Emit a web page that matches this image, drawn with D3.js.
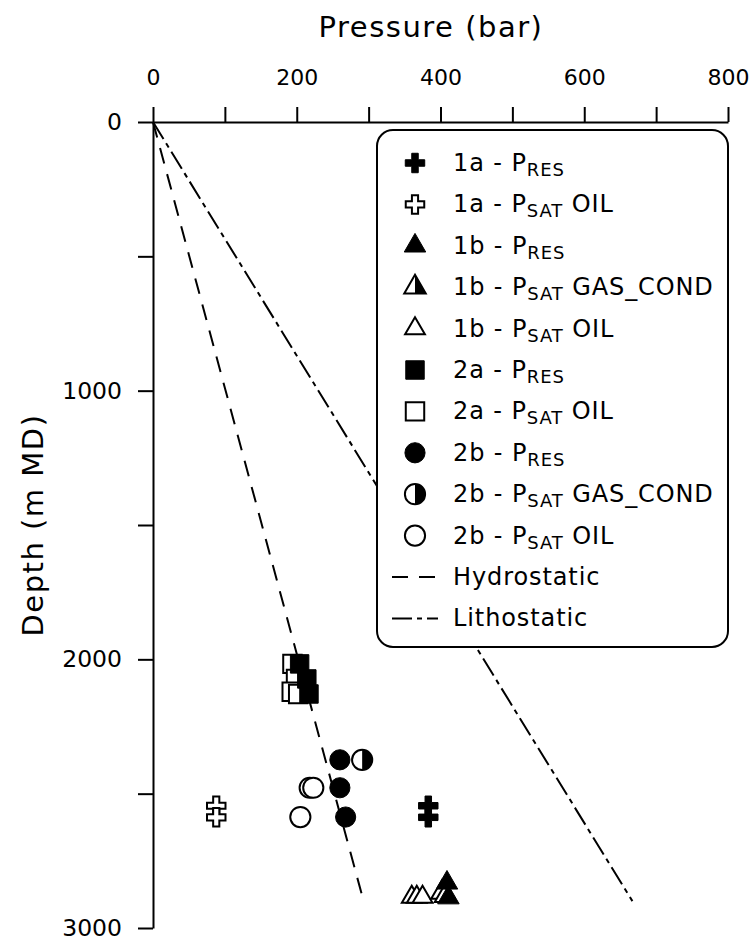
<!DOCTYPE html>
<meta charset="utf-8">
<style>
body { margin: 0; background: #fff; }
svg { font-family: "DejaVu Sans", Verdana, sans-serif; }
.axis path, .axis line { stroke: #000; stroke-width: 2px; }
.axis text { font-family: "DejaVu Sans", Verdana, sans-serif; fill: #000; }
.x.axis text { font-size: 22px; }
.y.axis text { font-size: 23.5px; }
.legend-box { fill: #fff; stroke: #000; stroke-width: 2px; }
.legend text { font-size: 24px; letter-spacing: 0.9px; fill: #000; }
.title { font-size: 29px; letter-spacing: 1.5px; }
</style>
<svg width="752" height="943"></svg>
<script src="https://cdn.jsdelivr.net/npm/d3@7"></script>
<script>

// pressure (bar) vs depth (m MD)
var res1a    = [[383, 2545], [383, 2588]],
    satOil1a = [[88, 2545], [88, 2588]],
    res1b    = [[409, 2832], [411, 2887]],
    satGas1b = [[402, 2868], [407, 2880]],
    satOil1b = [[360, 2885], [367, 2885], [375, 2885]],
    res2a    = [[204, 2017], [214, 2073], [217, 2129]],
    satOil2a = [[194, 2017], [199, 2073], [193, 2121], [202, 2129]],
    res2b    = [[260, 2374], [260, 2478], [268, 2587]],
    satGas2b = [[291, 2374]],
    satOil2b = [[218, 2478], [223, 2478], [205, 2587]];

var hydrostatic = [[0, 0], [293, 2900]],
    lithostatic = [[0, 0], [667, 2900]];

var xTicks = [0, 100, 200, 300, 400, 500, 600, 700, 800],
    yTicks = [0, 500, 1000, 1500, 2000, 2500, 3000];

var svg = d3.select("svg");

var x = d3.scaleLinear().domain([0, 800]).range([153, 728]),
    y = d3.scaleLinear().domain([0, 3000]).range([122, 928]);

var defs = svg.append("defs");
defs.append("clipPath")
    .attr("id", "right-half")
    .attr("clipPathUnits", "objectBoundingBox")
  .append("rect")
    .attr("x", 0.5).attr("y", -0.1).attr("width", 0.6).attr("height", 1.2);

// pressure gradient lines
var line = d3.line()
    .x(function(d) { return x(d[0]); })
    .y(function(d) { return y(d[1]); });

svg.append("path")
    .datum(hydrostatic)
    .attr("d", line)
    .attr("fill", "none")
    .attr("stroke", "#000")
    .attr("stroke-width", 2)
    .attr("stroke-dasharray", "16,11");

svg.append("path")
    .datum(lithostatic)
    .attr("d", line)
    .attr("fill", "none")
    .attr("stroke", "#000")
    .attr("stroke-width", 2)
    .attr("stroke-dasharray", "20,5,5,5");

// axes
svg.append("g")
    .attr("class", "x axis")
    .attr("transform", "translate(0,122)")
    .call(d3.axisTop(x)
        .tickValues(xTicks)
        .tickFormat(function(d) { return d % 200 === 0 ? d : ""; })
        .tickSize(15)
        .tickSizeOuter(0)
        .tickPadding(22));

svg.append("g")
    .attr("class", "y axis")
    .attr("transform", "translate(153,0)")
    .call(d3.axisLeft(y)
        .tickValues(yTicks)
        .tickFormat(function(d) { return d % 1000 === 0 ? d : ""; })
        .tickSize(15)
        .tickSizeOuter(0)
        .tickPadding(16));

svg.append("text")
    .attr("class", "title")
    .attr("x", 431)
    .attr("y", 37)
    .attr("text-anchor", "middle")
    .text("Pressure (bar)");

svg.append("text")
    .attr("class", "title")
    .attr("transform", "translate(43,525) rotate(-90)")
    .attr("text-anchor", "middle")
    .text("Depth (m MD)");

// marker styles
var styles = {
  cross:    {type: d3.symbolCross,    size: 210, fill: "#000", half: false},
  crossO:   {type: d3.symbolCross,    size: 190, fill: "#fff", half: false},
  tri:      {type: d3.symbolTriangle, size: 200, fill: "#000", half: false},
  triH:     {type: d3.symbolTriangle, size: 200, fill: "#fff", half: true},
  triO:     {type: d3.symbolTriangle, size: 170, fill: "#fff", half: false},
  square:   {type: d3.symbolSquare,   size: 340, fill: "#000", half: false},
  squareO:  {type: d3.symbolSquare,   size: 340, fill: "#fff", half: false},
  circle:   {type: d3.symbolCircle,   size: 320, fill: "#000", half: false},
  circleH:  {type: d3.symbolCircle,   size: 320, fill: "#fff", half: true},
  circleO:  {type: d3.symbolCircle,   size: 320, fill: "#fff", half: false}
};

function drawMarker(g, st) {
  var sym = d3.symbol().type(st.type).size(st.size)();
  g.append("path")
      .attr("d", sym)
      .attr("fill", st.fill)
      .attr("stroke", "#000")
      .attr("stroke-width", st.fill === "#fff" ? 2 : 1);
  if (st.half) {
    g.append("path")
        .attr("d", sym)
        .attr("fill", "#000")
        .attr("clip-path", "url(#right-half)");
  }
}

var series = [
  {data: satOil1b, style: "triO"},
  {data: satGas1b, style: "triH"},
  {data: res1b,    style: "tri"},
  {data: satOil1a, style: "crossO"},
  {data: res1a,    style: "cross"},
  {data: satOil2a, style: "squareO"},
  {data: res2a,    style: "square"},
  {data: satOil2b, style: "circleO"},
  {data: satGas2b, style: "circleH"},
  {data: res2b,    style: "circle"}
];

series.forEach(function(s) {
  svg.append("g").selectAll("g")
      .data(s.data)
    .enter().append("g")
      .attr("transform", function(d) { return "translate(" + x(d[0]) + "," + y(d[1]) + ")"; })
      .each(function() { drawMarker(d3.select(this), styles[s.style]); });
});

// legend
var legendItems = [
  {id: "1a", sub: "RES", rest: "",          style: "cross"},
  {id: "1a", sub: "SAT", rest: " OIL",      style: "crossO"},
  {id: "1b", sub: "RES", rest: "",          style: "tri"},
  {id: "1b", sub: "SAT", rest: " GAS_COND", style: "triH"},
  {id: "1b", sub: "SAT", rest: " OIL",      style: "triO"},
  {id: "2a", sub: "RES", rest: "",          style: "square"},
  {id: "2a", sub: "SAT", rest: " OIL",      style: "squareO"},
  {id: "2b", sub: "RES", rest: "",          style: "circle"},
  {id: "2b", sub: "SAT", rest: " GAS_COND", style: "circleH"},
  {id: "2b", sub: "SAT", rest: " OIL",      style: "circleO"}
];
var legendLines = [
  {label: "Hydrostatic", dash: "16,11"},
  {label: "Lithostatic", dash: "20,5,5,5"}
];

var legend = svg.append("g").attr("class", "legend");

legend.append("rect")
    .attr("class", "legend-box")
    .attr("x", 377).attr("y", 130)
    .attr("width", 351).attr("height", 517)
    .attr("rx", 16).attr("ry", 16);

var rowY = function(i) { return 163 + i * 41.4; };

legendItems.forEach(function(it, i) {
  var g = legend.append("g").attr("transform", "translate(415," + rowY(i) + ")");
  drawMarker(g, styles[it.style]);
  var t = legend.append("text").attr("x", 453).attr("y", rowY(i) + 8);
  t.append("tspan").text(it.id + " - P");
  t.append("tspan").attr("dy", 5).style("font-size", "18px").text(it.sub);
  if (it.rest) t.append("tspan").attr("dy", -5).text(it.rest);
});

legendLines.forEach(function(it, j) {
  var i = legendItems.length + j;
  legend.append("line")
      .attr("x1", 392).attr("x2", 438)
      .attr("y1", rowY(i)).attr("y2", rowY(i))
      .attr("stroke", "#000")
      .attr("stroke-width", 2)
      .attr("stroke-dasharray", it.dash);
  legend.append("text")
      .attr("x", 453).attr("y", rowY(i) + 8)
      .text(it.label);
});

</script>
